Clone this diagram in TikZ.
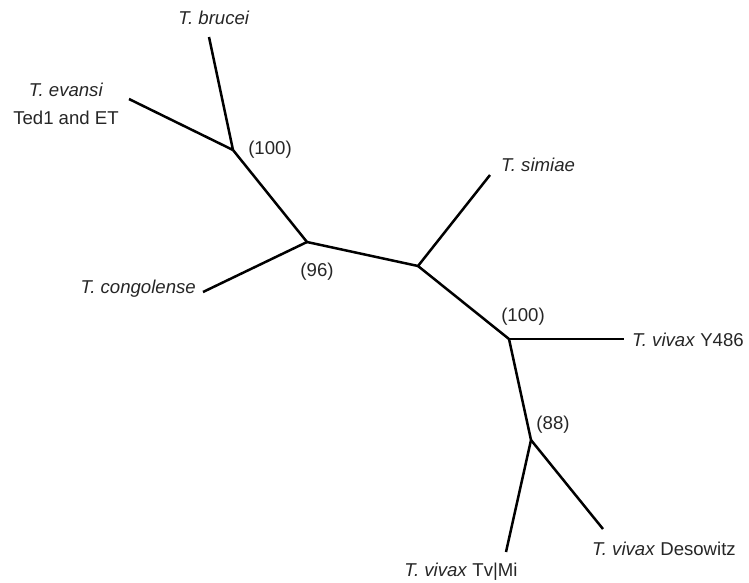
\documentclass[tikz,border=0pt]{standalone}
\usepackage{fontspec}
\setmainfont{Liberation Sans}
\begin{document}
\begin{tikzpicture}[x=1pt,y=-1pt,
  branch/.style={line width=2.5pt,line join=round},
  taxon/.style={inner sep=0pt,font=\fontsize{18.6}{22}\selectfont,text=black!85},
  support/.style={inner sep=0pt,font=\fontsize{18.6}{22}\selectfont,text=black!85}]
\useasboundingbox (0,0) rectangle (749,582);

% internal nodes of the unrooted tree
\coordinate (nA) at (233,150);
\coordinate (nB) at (307,242);
\coordinate (nC) at (418,266);
\coordinate (nD) at (509,339);
\coordinate (nE) at (531,440);

% leaf ends
\coordinate (lBru) at (209,37);
\coordinate (lEva) at (129,99);
\coordinate (lCon) at (203,292);
\coordinate (lSim) at (490,175);
\coordinate (lY) at (624,339);
\coordinate (lTv) at (506,552);
\coordinate (lDes) at (603,529);

% branches
\draw[branch] (lBru) -- (nA);
\draw[branch] (lEva) -- (nA);
\draw[branch] (nA) -- (nB);
\draw[branch] (lCon) -- (nB);
\draw[branch] (nB) -- (nC);
\draw[branch] (lSim) -- (nC);
\draw[branch] (nC) -- (nD);
\draw[branch] (nD) -- (lY);
\draw[branch] (nD) -- (nE);
\draw[branch] (nE) -- (lTv);
\draw[branch] (nE) -- (lDes);

% taxon labels
\node[taxon] (tBru) at (214,18) {\textit{T. brucei}};
\node[taxon,align=center,font=\fontsize{18.6}{28}\selectfont] (tEva) at (66,104) {\textit{T. evansi}\\Ted1 and ET};
\node[taxon,anchor=east] (tCon) at (196,289) {\textit{T. congolense}};
\node[taxon,anchor=west] (tSim) at (501,165) {\textit{T. simiae}};
\node[taxon,anchor=west] (tY) at (632,340) {\textit{T. vivax} Y486};
\node[taxon] (tTv) at (461,572) {\textit{T. vivax} Tv|Mi};
\node[taxon] (tDes) at (664,549) {\textit{T. vivax} Desowitz};

% bootstrap support values
\node[support] (sA) at (270,150) {(100)};
\node[support] (sB) at (317,272) {(96)};
\node[support] (sD) at (523,317) {(100)};
\node[support] (sE) at (553,425) {(88)};
\end{tikzpicture}
\end{document}
